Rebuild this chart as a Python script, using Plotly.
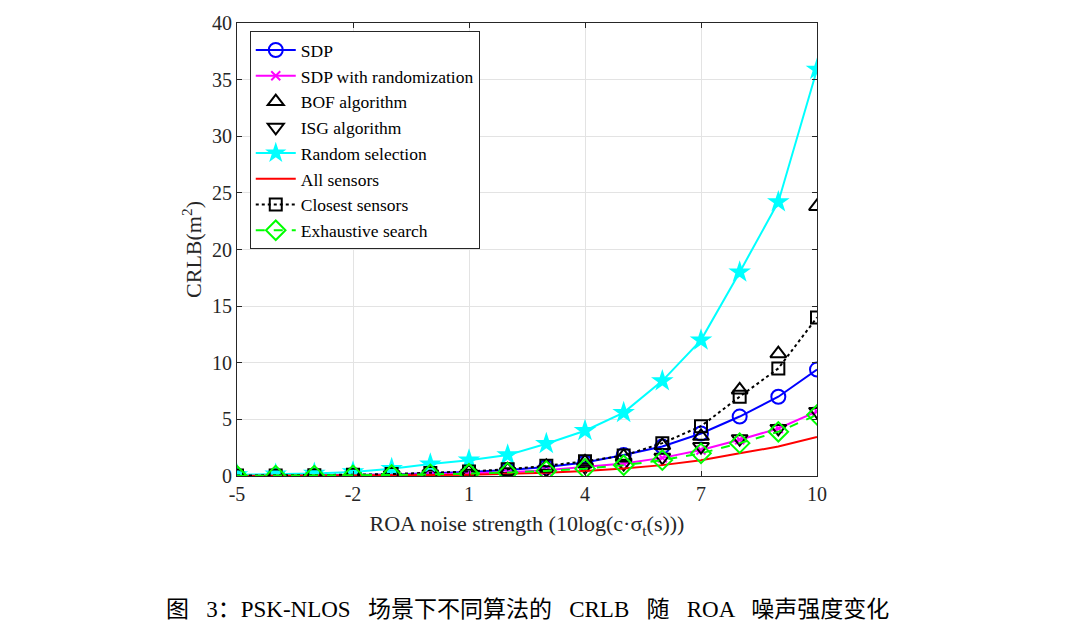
import plotly.graph_objects as go

x_vals = [-5, -4, -3, -2, -1, 0, 1, 2, 3, 4, 5, 6, 7, 8, 9, 10]

sdp = [0.03, 0.04, 0.06, 0.09, 0.14, 0.22, 0.35, 0.52, 0.8, 1.2, 1.85, 2.6, 3.75, 5.25, 7.0, 9.4]
sdp_rand = [0.02, 0.03, 0.04, 0.06, 0.1, 0.15, 0.22, 0.33, 0.5, 0.8, 1.1, 1.6, 2.3, 3.2, 4.2, 5.7]
bof = [0.04, 0.05, 0.07, 0.1, 0.16, 0.25, 0.38, 0.55, 0.85, 1.25, 1.75, 2.7, 3.5, 7.6, 10.8, 23.8]
isg = [0.03, 0.04, 0.05, 0.07, 0.11, 0.17, 0.25, 0.37, 0.55, 0.8, 1.1, 1.65, 2.6, 3.3, 4.2, 5.7]
random_sel = [0.1, 0.15, 0.22, 0.35, 0.65, 1.05, 1.4, 1.85, 2.85, 4.0, 5.6, 8.4, 12.0, 18.0, 24.2, 35.9]
all_sensors = [0.01, 0.015, 0.02, 0.03, 0.05, 0.08, 0.12, 0.18, 0.28, 0.45, 0.67, 0.96, 1.4, 2.0, 2.6, 3.45]
closest = [0.04, 0.05, 0.07, 0.11, 0.17, 0.26, 0.4, 0.6, 0.9, 1.3, 1.8, 2.9, 4.4, 7.0, 9.5, 14.0]
exhaustive = [0.02, 0.03, 0.04, 0.06, 0.09, 0.14, 0.2, 0.3, 0.45, 0.65, 0.95, 1.4, 2.0, 2.9, 3.9, 5.4]

x_tickvals = [-5, -2, 1, 4, 7, 10]
x_ticktext = ["-5", "-2", "1", "4", "7", "10"]
y_tickvals = [0, 5, 10, 15, 20, 25, 30, 35, 40]
y_ticktext = ["0", "5", "10", "15", "20", "25", "30", "35", "40"]

series_names = ["SDP", "SDP with randomization", "BOF algorithm", "ISG algorithm",
                "Random selection", "All sensors", "Closest sensors", "Exhaustive search"]

caption = "图   3：PSK-NLOS   场景下不同算法的   CRLB   随   ROA   噪声强度变化"

SERIF = "Liberation Serif, Times New Roman, serif"

fig = go.Figure()

fig.add_trace(go.Scatter(x=x_vals, y=sdp, name=series_names[0], mode="lines+markers",
                         line=dict(color="#0000ff", width=2),
                         marker=dict(symbol="circle-open", size=14, color="#0000ff", line=dict(width=2))))
fig.add_trace(go.Scatter(x=x_vals, y=sdp_rand, name=series_names[1], mode="lines+markers",
                         line=dict(color="#ff00ff", width=2),
                         marker=dict(symbol="x-thin-open", size=9, color="#ff00ff", line=dict(width=2, color="#ff00ff"))))
fig.add_trace(go.Scatter(x=x_vals, y=bof, name=series_names[2], mode="markers",
                         marker=dict(symbol="triangle-up-open", size=14, color="#000000", line=dict(width=2))))
fig.add_trace(go.Scatter(x=x_vals, y=isg, name=series_names[3], mode="markers",
                         marker=dict(symbol="triangle-down-open", size=14, color="#000000", line=dict(width=2))))
fig.add_trace(go.Scatter(x=x_vals, y=random_sel, name=series_names[4], mode="lines+markers",
                         line=dict(color="#00ffff", width=2),
                         marker=dict(symbol="star", size=17, color="#00ffff")))
fig.add_trace(go.Scatter(x=x_vals, y=all_sensors, name=series_names[5], mode="lines",
                         line=dict(color="#ff0000", width=2)))
fig.add_trace(go.Scatter(x=x_vals, y=closest, name=series_names[6], mode="lines+markers",
                         line=dict(color="#000000", width=2, dash="dot"),
                         marker=dict(symbol="square-open", size=12, color="#000000", line=dict(width=2))))
fig.add_trace(go.Scatter(x=x_vals, y=exhaustive, name=series_names[7], mode="lines+markers",
                         line=dict(color="#00ff00", width=2, dash="dash"),
                         marker=dict(symbol="diamond-open", size=15, color="#00ff00", line=dict(width=2))))

axis_common = dict(showline=True, linecolor="#262626", linewidth=1, mirror="ticks",
                   ticks="inside", ticklen=5, tickcolor="#262626",
                   showgrid=True, gridcolor="#e3e3e3", gridwidth=1, zeroline=False,
                   tickfont=dict(family=SERIF, size=20, color="#262626"))

fig.update_xaxes(range=[-5, 10], tickvals=x_tickvals, ticktext=x_ticktext,
                 title=dict(text="ROA noise strength (10log(c·σ<sub>t</sub>(s)))",
                            font=dict(family=SERIF, size=22, color="#262626"), standoff=11),
                 **axis_common)
fig.update_yaxes(range=[0, 40], tickvals=y_tickvals, ticktext=y_ticktext,
                 title=dict(text="CRLB(m<sup>2</sup>)",
                            font=dict(family=SERIF, size=22, color="#262626"), standoff=4),
                 **axis_common)

fig.update_layout(
    width=1080, height=623,
    margin=dict(l=237, r=263, t=21, b=147),
    paper_bgcolor="white", plot_bgcolor="white",
    showlegend=True,
    legend=dict(x=0.022, y=0.982, xanchor="left", yanchor="top",
                bgcolor="white", bordercolor="#262626", borderwidth=1,
                font=dict(family=SERIF, size=17.5, color="#000000"),
                tracegroupgap=0, itemwidth=40),
    annotations=[dict(text=caption, x=0.5, y=-0.295, xref="paper", yref="paper",
                      xanchor="center", yanchor="middle", showarrow=False,
                      font=dict(family="Liberation Serif, Noto Sans CJK SC", size=23, color="#000000"))],
)

fig.write_html("out.html")
